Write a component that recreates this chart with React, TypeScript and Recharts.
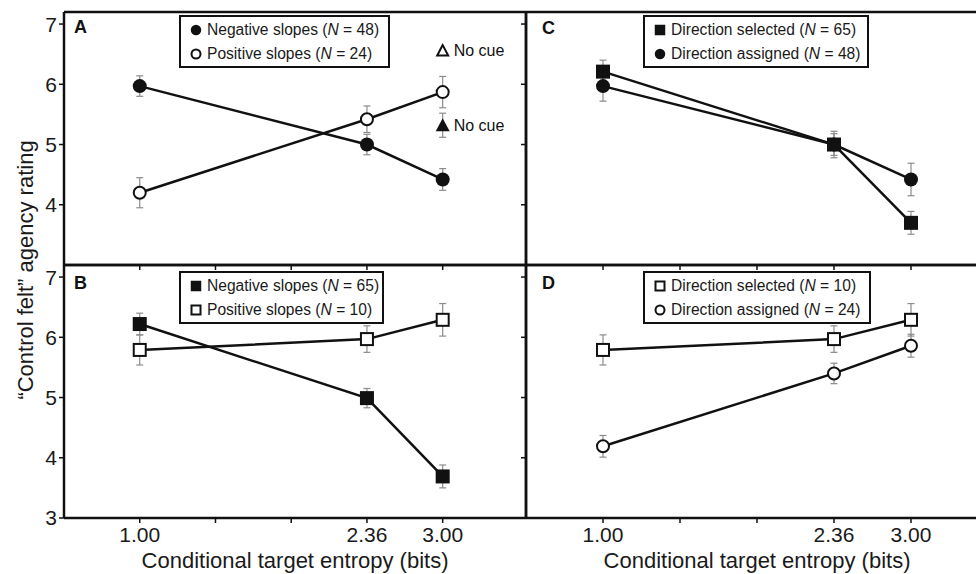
import React from 'react';
import { ComposedChart, Line, XAxis, YAxis, ErrorBar, ReferenceLine } from 'recharts';

// x slots: the three entropy levels sit on an evenly spaced tick grid
const xSlots = [1, 4, 5];
const xTickSlots = [1, 2, 3, 4, 5];
const xTickLabels = ['1.00', '', '', '2.36', '3.00'];
const yTicksTop = [4, 5, 6, 7];
const yTicksBottom = [3, 4, 5, 6, 7];

// Panel A
const negSlopes48 = [5.97, 5.0, 4.42];
const negSlopes48Err = [0.17, 0.17, 0.18];
const posSlopes24 = [4.2, 5.42, 5.87];
const posSlopes24Err = [0.25, 0.22, 0.26];
const noCueNeg = [null, null, 5.32];
const noCueNegErr = [null, null, 0.2];
const noCuePos = [null, null, 6.56];

// Panel B
const negSlopes65 = [6.22, 4.99, 3.69];
const negSlopes65Err = [0.18, 0.16, 0.19];
const posSlopes10 = [5.79, 5.97, 6.29];
const posSlopes10Err = [0.25, 0.22, 0.27];

// Panel C
const dirSelected65 = [6.21, 5.0, 3.7];
const dirSelected65Err = [0.19, 0.18, 0.19];
const dirAssigned48 = [5.97, 5.0, 4.42];
const dirAssigned48Err = [0.25, 0.22, 0.27];

// Panel D
const dirSelected10 = [5.79, 5.97, 6.29];
const dirSelected10Err = [0.25, 0.22, 0.27];
const dirAssigned24 = [4.19, 5.4, 5.86];
const dirAssigned24Err = [0.18, 0.17, 0.19];

const FONT = "'Liberation Sans', Arial, Helvetica, sans-serif";
const INK = '#111';
const ERR = '#8c8c8c';

type MarkerKind = 'circle' | 'circleOpen' | 'square' | 'squareOpen' | 'triangle' | 'triangleOpen';

type Series = {
  key: string;
  values: (number | null)[];
  errors?: (number | null)[];
  marker: MarkerKind;
  line: boolean;
  note?: string;
};

const Marker = ({ kind, cx, cy, small }: { kind: MarkerKind; cx: number; cy: number; small?: boolean }) => {
  const s = small ? 0.75 : 1;
  switch (kind) {
    case 'circle':
      return <circle cx={cx} cy={cy} r={7 * s} fill={INK} />;
    case 'circleOpen':
      return <circle cx={cx} cy={cy} r={6 * s} fill="#fff" stroke={INK} strokeWidth={2} />;
    case 'square':
      return <rect x={cx - 7 * s} y={cy - 7 * s} width={14 * s} height={14 * s} fill={INK} />;
    case 'squareOpen':
      return <rect x={cx - 6 * s} y={cy - 6 * s} width={12 * s} height={12 * s} fill="#fff" stroke={INK} strokeWidth={2} />;
    case 'triangle':
      return <polygon points={`${cx},${cy - 7} ${cx - 7},${cy + 6} ${cx + 7},${cy + 6}`} fill={INK} />;
    case 'triangleOpen':
      return (
        <polygon
          points={`${cx},${cy - 5.5} ${cx - 5.5},${cy + 5} ${cx + 5.5},${cy + 5}`}
          fill="#fff"
          stroke={INK}
          strokeWidth={2}
        />
      );
  }
  return null;
};

const makeDot = (kind: MarkerKind, note?: string) => (props: any) => {
  const { cx, cy, index } = props;
  if (cx == null || cy == null || Number.isNaN(cy)) return <g key={`d-${index}`} />;
  return (
    <g key={`d-${index}`}>
      <Marker kind={kind} cx={cx} cy={cy} />
      {note && (
        <text x={cx + 11} y={cy} dy="0.36em" fontSize={16} fill={INK} fontFamily={FONT}>
          {note}
        </text>
      )}
    </g>
  );
};

type PanelProps = {
  left: number;
  top: number;
  padL: number;
  padT: number;
  padR: number;
  padB: number;
  plotW: number;
  plotH: number;
  xMax: number;
  yTicks: number[];
  showYLabels: boolean;
  showXLabels: boolean;
  series: Series[];
};

const Panel = (p: PanelProps) => {
  const data = xSlots.map((x, i) => {
    const row: Record<string, number | null> = { x };
    p.series.forEach((s) => {
      row[s.key] = s.values[i];
      if (s.errors) row[s.key + 'Err'] = s.errors[i];
    });
    return row;
  });

  return (
    <div style={{ position: 'absolute', left: p.left, top: p.top }}>
      <ComposedChart
        width={p.padL + p.plotW + p.padR}
        height={p.padT + p.plotH + p.padB}
        data={data}
        margin={{ top: p.padT, right: p.padR, left: 0, bottom: 0 }}
      >
        <XAxis
          type="number"
          dataKey="x"
          domain={[0, p.xMax]}
          ticks={xTickSlots}
          height={p.padB}
          axisLine={{ stroke: INK, strokeWidth: 2.5 }}
          tickLine={{ stroke: INK, strokeWidth: 1.5 }}
          tickSize={5}
          tickMargin={4}
          tick={{ fill: '#1a1a1a', fontSize: 21, fontFamily: FONT }}
          tickFormatter={(v: number) => (p.showXLabels ? xTickLabels[xTickSlots.indexOf(v)] : '')}
          label={
            p.showXLabels
              ? {
                  value: 'Conditional target entropy (bits)',
                  position: 'insideBottom',
                  offset: 6,
                  fill: '#1a1a1a',
                  fontSize: 22,
                  fontFamily: FONT,
                }
              : undefined
          }
        />
        <YAxis
          type="number"
          domain={[3, 7.2]}
          ticks={p.yTicks}
          width={p.padL}
          axisLine={{ stroke: INK, strokeWidth: 2.5 }}
          tickLine={{ stroke: INK, strokeWidth: 1.5 }}
          tickSize={5}
          tickMargin={2}
          tick={{ fill: '#1a1a1a', fontSize: 21, fontFamily: FONT }}
          tickFormatter={(v: number) => (p.showYLabels ? String(v) : '')}
        />
        <ReferenceLine y={7.2} stroke={INK} strokeWidth={2.5} />
        <ReferenceLine x={p.xMax} stroke={INK} strokeWidth={2.5} />
        {p.series.map((s) => (
          <Line
            key={s.key}
            dataKey={s.key}
            stroke={s.line ? INK : 'none'}
            strokeWidth={2.5}
            isAnimationActive={false}
            dot={makeDot(s.marker, s.note)}
            activeDot={false}
          >
            {s.errors && (
              <ErrorBar dataKey={s.key + 'Err'} width={3.5} stroke={ERR} strokeWidth={1.2} direction="y" />
            )}
          </Line>
        ))}
      </ComposedChart>
    </div>
  );
};

type LegendItem = { marker: MarkerKind; label: string; n: number };

const LegendBox = ({ left, top, width, items }: { left: number; top: number; width: number; items: LegendItem[] }) => (
  <div
    style={{
      position: 'absolute',
      left,
      top,
      width,
      boxSizing: 'border-box',
      border: `2px solid ${INK}`,
      background: '#fff',
      padding: '0.5px 0 0.5px 8px',
      fontFamily: FONT,
      fontSize: 15.6,
      color: '#1a1a1a',
      lineHeight: '24px',
      whiteSpace: 'nowrap',
    }}
  >
    {items.map((it) => (
      <div key={it.label} style={{ display: 'flex', alignItems: 'center', height: 24 }}>
        <svg width={14} height={14} style={{ marginRight: 4, flex: 'none' }}>
          <Marker kind={it.marker} cx={7} cy={7} small />
        </svg>
        <span>
          {it.label} (<i>N</i> = {it.n})
        </span>
      </div>
    ))}
  </div>
);

const App = () => {
  const seriesA: Series[] = [
    { key: 'neg', values: negSlopes48, errors: negSlopes48Err, marker: 'circle', line: true },
    { key: 'pos', values: posSlopes24, errors: posSlopes24Err, marker: 'circleOpen', line: true },
    { key: 'noCueNeg', values: noCueNeg, errors: noCueNegErr, marker: 'triangle', line: false, note: 'No cue' },
    { key: 'noCuePos', values: noCuePos, marker: 'triangleOpen', line: false, note: 'No cue' },
  ];
  const seriesB: Series[] = [
    { key: 'neg', values: negSlopes65, errors: negSlopes65Err, marker: 'square', line: true },
    { key: 'pos', values: posSlopes10, errors: posSlopes10Err, marker: 'squareOpen', line: true },
  ];
  const seriesC: Series[] = [
    { key: 'assigned', values: dirAssigned48, errors: dirAssigned48Err, marker: 'circle', line: true },
    { key: 'selected', values: dirSelected65, errors: dirSelected65Err, marker: 'square', line: true },
  ];
  const seriesD: Series[] = [
    { key: 'selected', values: dirSelected10, errors: dirSelected10Err, marker: 'squareOpen', line: true },
    { key: 'assigned', values: dirAssigned24, errors: dirAssigned24Err, marker: 'circleOpen', line: true },
  ];

  const leftGeom = { left: 0, padL: 64, padR: 12, plotW: 462, xMax: 6.1, showYLabels: true };
  const rightGeom = { left: 506, padL: 20, padR: 10, plotW: 462, xMax: 6, showYLabels: false };
  const topGeom = { top: 0, padT: 12, padB: 10, plotH: 253, yTicks: yTicksTop, showXLabels: false };
  const bottomGeom = { top: 255, padT: 10, padB: 56, plotH: 253, yTicks: yTicksBottom, showXLabels: true };

  const letter = (x: number, y: number, t: string) => (
    <text x={x} y={y} fontSize={18} fontWeight="bold" fill={INK} fontFamily={FONT}>
      {t}
    </text>
  );

  return (
    <div
      style={{
        position: 'absolute',
        left: 0,
        top: 0,
        width: 976,
        height: 574,
        overflow: 'hidden',
        background: '#fff',
        fontFamily: FONT,
      }}
    >
      <Panel {...leftGeom} {...topGeom} series={seriesA} />
      <Panel {...rightGeom} {...topGeom} series={seriesC} />
      <Panel {...leftGeom} {...bottomGeom} series={seriesB} />
      <Panel {...rightGeom} {...bottomGeom} series={seriesD} />

      <LegendBox
        left={179}
        top={15}
        width={211}
        items={[
          { marker: 'circle', label: 'Negative slopes', n: 48 },
          { marker: 'circleOpen', label: 'Positive slopes', n: 24 },
        ]}
      />
      <LegendBox
        left={179}
        top={271}
        width={205}
        items={[
          { marker: 'square', label: 'Negative slopes', n: 65 },
          { marker: 'squareOpen', label: 'Positive slopes', n: 10 },
        ]}
      />
      <LegendBox
        left={643}
        top={15}
        width={226}
        items={[
          { marker: 'square', label: 'Direction selected', n: 65 },
          { marker: 'circle', label: 'Direction assigned', n: 48 },
        ]}
      />
      <LegendBox
        left={643}
        top={271}
        width={228}
        items={[
          { marker: 'squareOpen', label: 'Direction selected', n: 10 },
          { marker: 'circleOpen', label: 'Direction assigned', n: 24 },
        ]}
      />

      <svg width={976} height={574} style={{ position: 'absolute', left: 0, top: 0, pointerEvents: 'none' }}>
        <text
          x={33}
          y={270}
          transform="rotate(-90 33 270)"
          textAnchor="middle"
          fontSize={22}
          fill="#1a1a1a"
          fontFamily={FONT}
        >
          “Control felt” agency rating
        </text>
        {letter(74, 33, 'A')}
        {letter(74, 289, 'B')}
        {letter(542, 34, 'C')}
        {letter(542, 289, 'D')}
      </svg>
    </div>
  );
};

export default App;
